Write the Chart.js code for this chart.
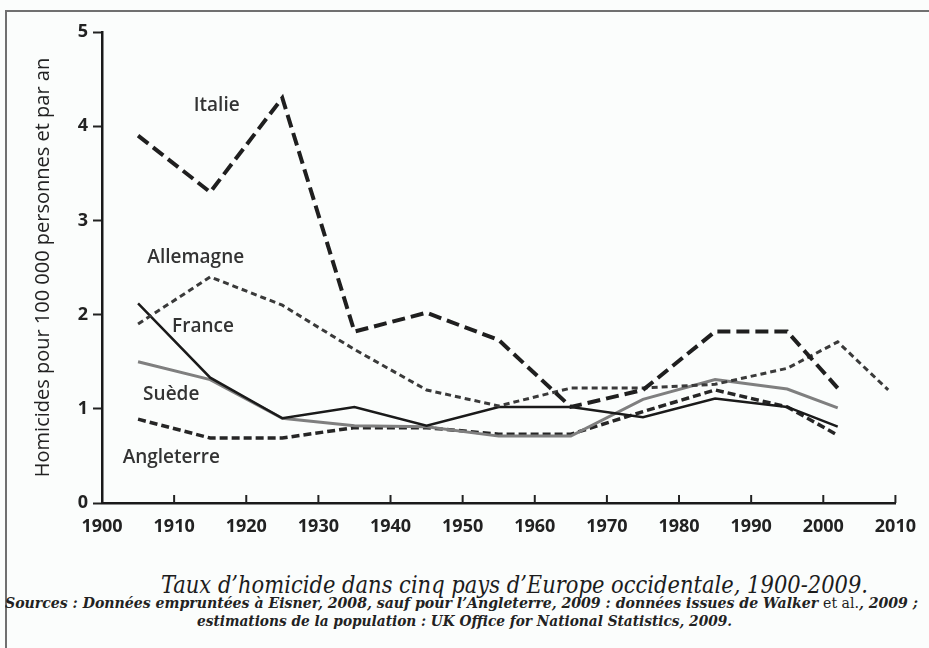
<!DOCTYPE html>
<html lang="fr">
<head>
<meta charset="utf-8">
<title>Taux d'homicide</title>
<script src="https://cdn.jsdelivr.net/npm/chart.js@4.4.1/dist/chart.umd.min.js"></script>
<style>
    html, body {
        margin: 0;
        padding: 0;
        background: #fbfdfc;
    }
    #page {
        position: relative;
        width: 929px;
        height: 648px;
        overflow: hidden;
        background: #fbfdfc;
    }
    #frame {
        position: absolute;
        left: 5px;
        top: 10px;
        width: 930px;
        height: 650px;
        border-top: 2px solid #707070;
        border-left: 2px solid #707070;
    }
    #chart-box {
        position: absolute;
        left: 0;
        top: 0;
    }
    .caption {
        position: absolute;
        white-space: nowrap;
        font-family: "DejaVu Serif Condensed", "DejaVu Serif", serif;
        font-stretch: condensed;
        font-style: italic;
        color: #222;
        transform-origin: 0 0;
    }
    #title {
        top: 571px;
        font-size: 24px;
        color: #1c1c1c;
    }
    #src1 {
        top: 595px;
        font-size: 14px;
        font-weight: bold;
    }
    #src2 {
        top: 613px;
        font-size: 14px;
        font-weight: bold;
    }
    .up { font-style: normal; font-weight: normal; }
</style>
</head>
<body>
<div id="page">
    <div id="frame"></div>
    <div id="chart-box">
        <canvas id="myChart" width="929" height="545"></canvas>
    </div>
    <div id="title" class="caption">Taux d’homicide dans cinq pays d’Europe occidentale, 1900-2009.</div>
    <div id="src1" class="caption">Sources : Données empruntées à Eisner, 2008, sauf pour l’Angleterre, 2009 : données issues de Walker <span class="up">et al.</span>, 2009 ;</div>
    <div id="src2" class="caption">estimations de la population : UK Office for National Statistics, 2009.</div>
</div>

<script>
// Years of the data points
const years = [1905, 1915, 1925, 1935, 1945, 1955, 1965, 1975, 1985, 1995, 2002];
const yearsGermany = [1905, 1915, 1925, 1935, 1945, 1955, 1965, 1975, 1985, 1995, 2002, 2009];

// Homicides per 100 000 people per year
const italie     = [3.9, 3.3, 4.3, 1.82, 2.02, 1.73, 1.02, 1.2, 1.82, 1.82, 1.22];
const allemagne  = [1.9, 2.4, 2.1, 1.63, 1.2, 1.03, 1.22, 1.22, 1.26, 1.43, 1.71, 1.2];
const france     = [2.12, 1.33, 0.9, 1.02, 0.82, 1.02, 1.02, 0.91, 1.11, 1.02, 0.81];
const suede      = [1.5, 1.31, 0.9, 0.82, 0.81, 0.71, 0.71, 1.1, 1.31, 1.21, 1.01];
const angleterre = [0.89, 0.69, 0.69, 0.8, 0.8, 0.73, 0.73, 0.97, 1.2, 1.02, 0.72];

const xTicks = [1900, 1910, 1920, 1930, 1940, 1950, 1960, 1970, 1980, 1990, 2000, 2010];
const yTicks = [0, 1, 2, 3, 4, 5];

const countryNames = ['Italie', 'Allemagne', 'France', 'Suède', 'Angleterre'];

// where each country name sits (year, value)
const nameSpots = [
    { year: 1915.9, value: 4.22 },
    { year: 1913.0, value: 2.6 },
    { year: 1914.0, value: 1.87 },
    { year: 1909.6, value: 1.15 },
    { year: 1909.6, value: 0.48 }
];

const tickFont = { family: "'Open Sans', sans-serif", size: 18, weight: 'bold' };

function toPoints(xs, ys) {
    return ys.map((v, i) => ({ x: xs[i], y: v }));
}

// x ticks drawn upward, inside the plot
const innerTicks = {
    id: 'innerTicks',
    afterDraw(chart) {
        const ctx = chart.ctx;
        const xScale = chart.scales.x;
        const bottom = chart.chartArea.bottom;
        ctx.save();
        ctx.strokeStyle = '#222';
        ctx.lineWidth = 2;
        xTicks.forEach(t => {
            if (t === 1900) return;
            const px = xScale.getPixelForValue(t);
            ctx.beginPath();
            ctx.moveTo(px, bottom);
            ctx.lineTo(px, bottom - 8);
            ctx.stroke();
        });
        ctx.restore();
    }
};

// country names next to their lines
const seriesNames = {
    id: 'seriesNames',
    afterDatasetsDraw(chart) {
        const ctx = chart.ctx;
        const xScale = chart.scales.x;
        const yScale = chart.scales.y;
        ctx.save();
        ctx.font = "600 19px 'Open Sans', sans-serif";
        ctx.fillStyle = '#333';
        ctx.textAlign = 'center';
        ctx.textBaseline = 'middle';
        countryNames.forEach((name, i) => {
            const spot = nameSpots[i];
            ctx.fillText(name, xScale.getPixelForValue(spot.year), yScale.getPixelForValue(spot.value));
        });
        ctx.restore();
    }
};

const ctx = document.getElementById('myChart').getContext('2d');

const chart = new Chart(ctx, {
    type: 'line',
    data: {
        datasets: [
            {
                label: 'Italie',
                data: toPoints(years, italie),
                borderColor: '#1f1f1f',
                borderWidth: 4,
                borderDash: [13, 6]
            },
            {
                label: 'Allemagne',
                data: toPoints(yearsGermany, allemagne),
                borderColor: '#3a3a3a',
                borderWidth: 3,
                borderDash: [6, 4]
            },
            {
                label: 'France',
                data: toPoints(years, france),
                borderColor: '#1a1a1a',
                borderWidth: 2.5
            },
            {
                label: 'Suède',
                data: toPoints(years, suede),
                borderColor: '#7f7f7f',
                borderWidth: 3
            },
            {
                label: 'Angleterre',
                data: toPoints(years, angleterre),
                borderColor: '#262626',
                borderWidth: 3.5,
                borderDash: [8, 4]
            }
        ]
    },
    options: {
        responsive: false,
        animation: false,
        layout: {
            padding: { left: 6, top: 32, right: 26, bottom: 0 }
        },
        elements: {
            point: { radius: 0 },
            line: { tension: 0, fill: false }
        },
        plugins: {
            legend: { display: false },
            tooltip: { enabled: false }
        },
        scales: {
            x: {
                type: 'linear',
                min: 1900,
                max: 2010,
                afterBuildTicks(scale) {
                    scale.ticks = xTicks.map(v => ({ value: v }));
                },
                afterFit(scale) {
                    scale.height = 42;
                },
                ticks: {
                    color: '#222',
                    font: tickFont,
                    padding: 13,
                    maxRotation: 0,
                    autoSkip: false,
                    callback: (v) => String(v)
                },
                grid: {
                    display: true,
                    drawOnChartArea: false,
                    drawTicks: false
                },
                border: { color: '#1a1a1a', width: 2.5 }
            },
            y: {
                min: 0,
                max: 5,
                afterBuildTicks(scale) {
                    scale.ticks = yTicks.map(v => ({ value: v }));
                },
                afterFit(scale) {
                    scale.width = 96;
                },
                ticks: {
                    color: '#222',
                    font: tickFont,
                    padding: 5
                },
                grid: {
                    display: true,
                    drawOnChartArea: false,
                    drawTicks: true,
                    tickLength: 9,
                    tickWidth: 2,
                    tickColor: '#222'
                },
                border: { color: '#1a1a1a', width: 2.5 },
                title: {
                    display: true,
                    text: 'Homicides pour 100 000 personnes et par an',
                    color: '#222',
                    font: { family: "'Open Sans', sans-serif", size: 20 },
                    padding: { top: 25, bottom: 0 }
                }
            }
        }
    },
    plugins: [innerTicks, seriesNames]
});

// stretch each caption line to the width it has in the printed figure
const captionSpans = [
    { id: 'title', left: 161, width: 707 },
    { id: 'src1', left: 5, width: 913 },
    { id: 'src2', left: 197, width: 535 }
];
captionSpans.forEach(c => {
    const el = document.getElementById(c.id);
    const w = el.getBoundingClientRect().width;
    el.style.left = c.left + 'px';
    el.style.transform = `scaleX(${c.width / w})`;
});
</script>
</body>
</html>
